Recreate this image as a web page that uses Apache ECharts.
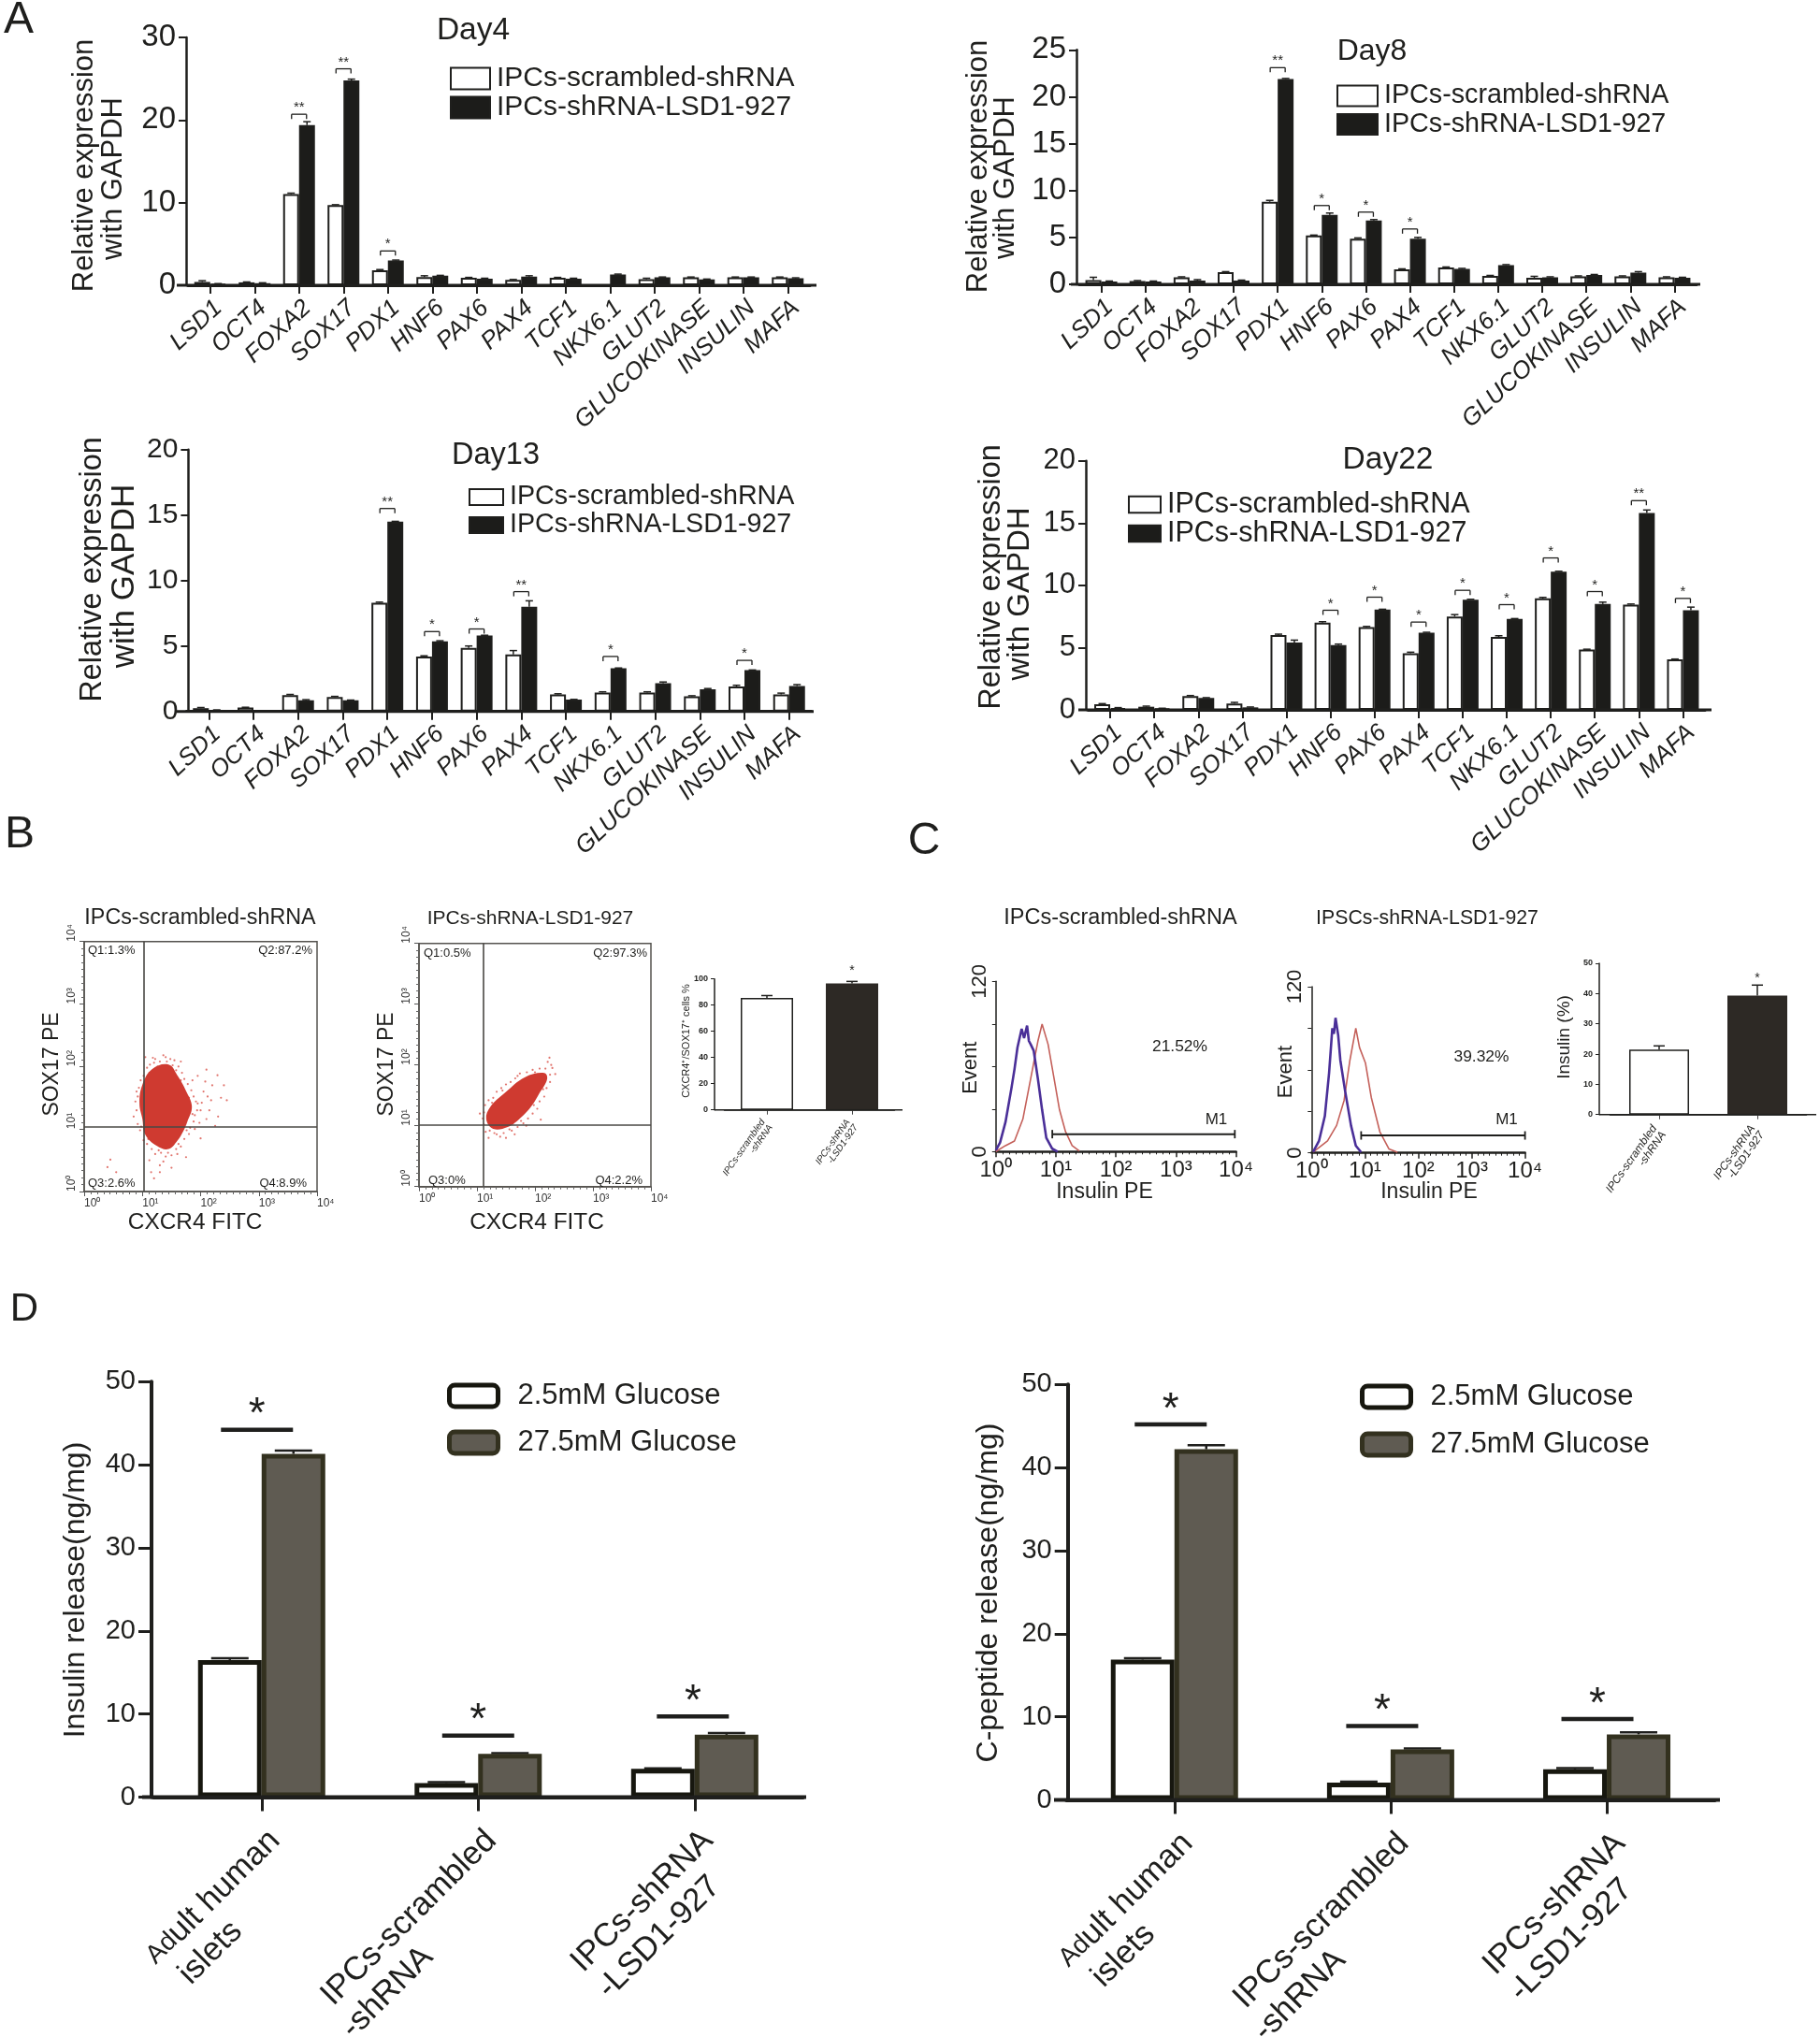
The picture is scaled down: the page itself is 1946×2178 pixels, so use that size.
<!DOCTYPE html>
<html><head><meta charset="utf-8">
<style>html,body{margin:0;padding:0;background:#fff}#c{width:1946px;height:2178px}</style>
<script src="https://cdn.jsdelivr.net/npm/echarts@6/dist/echarts.min.js"></script></head>
<body><div id="c"></div>
<script>
const FF = '"Liberation Sans"';
const INK = '#1f1f1d';
const genes = ['LSD1','OCT4','FOXA2','SOX17','PDX1','HNF6','PAX6','PAX4','TCF1','NKX6.1','GLUT2','GLUCOKINASE','INSULIN','MAFA'];
const seriesS = 'IPCs-scrambled-shRNA', seriesK = 'IPCs-shRNA-LSD1-927';

const day4S = [0.4,0.35,11.05,9.7,1.8,1.0,0.9,0.65,0.9,0,0.75,0.95,0.95,0.95];
const day4K = [0.15,0.25,19.4,24.8,3.0,1.15,0.8,1.05,0.8,1.3,0.95,0.7,0.95,0.85];
const day4ErrS = [0.15,0.05,0.1,0.05,0.1,0.15,0.05,0.05,0.05,0,0.1,0.05,0.05,0.05];
const day4ErrK = [0.05,0.05,0.4,0.15,0.05,0.05,0.05,0.1,0.05,0.05,0.05,0.05,0.05,0.05];
const day4Sig = [[2,20.7,'**'],[3,26.2,'**'],[4,4.15,'*']];

const day8S = [0.45,0.35,0.75,1.3,8.8,5.2,4.85,1.6,1.8,0.9,0.7,0.85,0.85,0.75];
const day8K = [0.3,0.3,0.4,0.4,21.9,7.4,6.8,4.85,1.65,2.05,0.75,1.0,1.25,0.7];
const day8ErrS = [0.3,0.05,0.05,0.05,0.15,0.05,0.1,0.05,0.05,0.05,0.15,0.05,0.05,0.05];
const day8ErrK = [0.05,0.05,0.1,0.05,0.05,0.2,0.1,0.15,0.05,0.05,0.05,0.05,0.1,0.05];
const day8Sig = [[4,23.1,'**'],[5,8.4,'*'],[6,7.7,'*'],[7,5.9,'*']];

const day13S = [0.25,0.3,1.25,1.1,8.3,4.2,4.85,4.35,1.3,1.45,1.45,1.15,1.9,1.3];
const day13K = [0.1,0.05,0.85,0.85,14.5,5.35,5.8,8.0,0.9,3.3,2.15,1.7,3.15,1.95];
const day13ErrS = [0.05,0.02,0.05,0.05,0.05,0.05,0.15,0.3,0.05,0.05,0.05,0.05,0.1,0.1];
const day13ErrK = [0.02,0.02,0.05,0.02,0.02,0.05,0.02,0.45,0.02,0.02,0.1,0.05,0.02,0.1];
const day13Sig = [[4,15.5,'**'],[5,6.1,'*'],[6,6.3,'*'],[7,9.15,'**'],[9,4.2,'*'],[12,3.9,'*']];

const day22S = [0.45,0.25,1.1,0.5,6.0,7.0,6.65,4.55,7.5,5.85,8.95,4.85,8.45,4.05];
const day22K = [0.15,0.1,0.95,0.2,5.4,5.2,8.05,6.2,8.85,7.3,11.1,8.5,15.8,8.0];
const day22ErrS = [0.05,0.05,0.05,0.1,0.08,0.08,0.05,0.08,0.15,0.1,0.08,0.02,0.05,0.03];
const day22ErrK = [0.03,0.03,0.03,0.03,0.2,0.08,0.03,0.03,0.03,0.03,0.03,0.15,0.25,0.25];
const day22Sig = [[5,8.0,'*'],[6,9.05,'*'],[7,7.05,'*'],[8,9.6,'*'],[9,8.45,'*'],[10,12.2,'*'],[11,9.5,'*'],[12,16.8,'**'],[13,8.95,'*']];

// Flow plots: coordinates are log10 decades
const decadeTicks = ['10\u2070','10\u00b9','10\u00b2','10\u00b3','10\u2074'];
const dot1Core = [[1,1.71],[1.17,1.96],[1.45,2.03],[1.6,1.86],[1.75,1.61],[1.85,1.36],[1.77,1.11],[1.7,0.96],[1.6,0.81],[1.45,0.68],[1.25,0.73],[1.05,0.91],[1,1.16],[0.95,1.41]];
const dot1Dots = [[2.29,1.86],[2.05,1.6],[2,1.3],[2.35,1.5],[2.45,1.46],[2.15,1.3],[2.1,1.16],[1.95,1.41],[2.2,1.7],[2.3,1.2],[0.45,0.51],[0.4,0.39],[0.55,0.31],[1.15,0.31],[1.3,0.31],[1.2,0.21],[1.05,2.15],[1.4,2.15],[1.55,2.1],[1.2,2.06],[1.9,1.0],[2.0,0.85],[1.75,0.55],[1.3,0.42],[1.5,0.38],[2.25,1.05],[1.95,1.85],[2.1,1.95],[0.9,1.6],[0.85,1.2],[2.12,1.52],[2.4,1.7],
 [1.02,1.85],[1.08,1.98],[1.13,2.03],[1.22,2.12],[1.3,2.08],[1.36,2.18],[1.48,2.12],[1.52,2.02],[1.62,2.0],[1.68,1.9],[1.72,1.8],[1.78,1.72],[1.84,1.62],[1.88,1.52],[1.92,1.44],[1.94,1.3],[1.9,1.22],[1.88,1.12],[1.82,1.02],[1.8,0.92],[1.72,0.84],[1.66,0.72],[1.58,0.68],[1.5,0.58],[1.4,0.56],[1.32,0.62],[1.22,0.6],[1.16,0.68],[1.08,0.76],[1.02,0.82],[0.96,0.98],[0.92,1.08],[0.9,1.3],[0.88,1.44],[0.92,1.52],[0.94,1.66],[0.97,1.78],[1.12,1.9],[1.26,2.0],[1.42,2.08],[1.58,1.94],[1.66,1.78],[1.8,1.5],[1.86,1.24],[1.76,0.98],[1.62,0.76],[1.44,0.62],[1.28,0.66],[1.1,0.84],[0.98,1.04],[1.18,2.14],[1.66,2.08],[1.86,1.78],[2.02,1.42],[1.98,1.1],[1.6,0.6],[1.36,0.48],[1.12,0.5],[2.18,1.46],[2.08,1.76]];
const dot2Core = [[1.16,1.11],[1.23,1.31],[1.48,1.54],[1.83,1.8],[2.16,1.87],[2.21,1.77],[2.08,1.54],[1.93,1.31],[1.73,1.11],[1.53,0.98],[1.28,0.95]];
const dot2Dots = [[2.28,2.0],[2.25,2.12],[2.3,1.95],[2.22,2.05],[2.35,1.85],[1.3,0.88],[1.4,0.82],[1.5,0.8],[1.15,0.9],[1.65,0.86],[1.05,1.2],[2.1,1.1],[1.2,0.8],[1.85,1.0],
 [1.12,1.22],[1.14,1.34],[1.2,1.42],[1.28,1.46],[1.34,1.56],[1.42,1.62],[1.5,1.68],[1.58,1.72],[1.66,1.78],[1.74,1.86],[1.86,1.88],[1.96,1.92],[2.08,1.94],[2.18,1.94],[2.26,1.84],[2.26,1.72],[2.2,1.62],[2.16,1.48],[2.08,1.4],[2.04,1.28],[1.96,1.2],[1.88,1.12],[1.8,1.04],[1.7,0.98],[1.6,0.92],[1.46,0.88],[1.34,0.86],[1.22,0.92],[1.12,1.02],[1.1,1.12],[1.26,1.38],[1.44,1.58],[1.7,1.82],[2.0,1.88],[2.14,1.6],[1.98,1.34],[1.76,1.08],[1.56,0.94]];
const dot1Gate = [1.03,1.04], dot2Gate = [1.11,1.02];
const dot1Quad = ['Q1:1.3%','Q2:87.2%','Q3:2.6%','Q4:8.9%'];
const dot2Quad = ['Q1:0.5%','Q2:97.3%','Q3:0%','Q4:2.2%'];

const hist1Blue = [[0,0.9],[0.07,6.4],[0.16,20.7],[0.26,44.8],[0.31,58],[0.36,73.4],[0.43,86.6],[0.47,80],[0.52,88.8],[0.55,78],[0.58,75.6],[0.63,71.2],[0.7,51.4],[0.77,29.5],[0.84,9.7],[0.94,2],[1.03,0]];
const hist1Red = [[0,0],[0.16,4.2],[0.31,7.5],[0.45,22.9],[0.6,55.8],[0.7,77.8],[0.77,89.9],[0.87,75.6],[0.97,51.4],[1.06,29.5],[1.16,14.1],[1.27,4.2],[1.39,0.4]];
const hist2Blue = [[0.03,0.7],[0.14,8.6],[0.25,26.6],[0.33,58],[0.39,90],[0.42,86],[0.45,97.5],[0.5,85],[0.54,67],[0.63,44.6],[0.74,19.8],[0.83,5.2],[0.93,0.5]];
const hist2Red = [[0.03,0.5],[0.3,8.6],[0.47,19.8],[0.61,37.8],[0.72,67],[0.83,90],[0.9,76],[1.01,65],[1.12,40],[1.28,15.3],[1.45,2.9],[1.61,0.5]];
const hist1M1 = [[0.94,12.3],[3.98,12.3]], hist2M1 = [[0.93,12.6],[4,12.6]];

const flowCats = ['IPCs-scrambled\n-shRNA','IPCs-shRNA\n-LSD1-927'];
const bPct = [85.5,96.5], bPctErr = [1.8,1.6];
const cPct = [21.5,39.3], cPctErr = [1.2,3.5];

const dCats = ['Adult human\nislets','IPCs-scrambled\n-shRNA','IPCs-shRNA\n-LSD1-927'];
const dCatLabels = ['{s|Ad}ult human\nislets          ','IPCs-scrambled\n-shRNA              ','IPCs-shRNA\n-LSD1-927   '];
const lowName = '2.5mM Glucose', highName = '27.5mM Glucose';
const insLow = [16.5,1.7,3.4], insHigh = [41.3,5.2,7.5];
const insLowErr = [0.2,0.1,0.05], insHighErr = [0.4,0.1,0.2];
const insSig = [[0,44.2,'*'],[1,7.4,'*'],[2,9.7,'*']];
const insSigShift = [-5,0,-2];
const cpLow = [16.9,2.1,3.7], cpHigh = [42.2,6.1,7.9];
const cpLowErr = [0.15,0.1,0.15], cpHighErr = [0.5,0.1,0.25];
const cpSig = [[0,45.2,'*'],[1,8.9,'*'],[2,9.75,'*']];
const cpSigShift = [-4,-9,-10];

const grid=[], xAxis=[], yAxis=[], series=[], legend=[], graphic=[];

function T(text,x,y,size,o){o=o||{};
  graphic.push({type:'text',x,y,rotation:o.rot||0,z:50,style:{text,fill:o.color||INK,
    font:(o.style||'normal')+' '+(o.weight||'normal')+' '+size+'px '+FF,
    textAlign:o.align||'center',textVerticalAlign:'middle',align:o.align||'center',verticalAlign:'middle'}});
}
function hline(x1,x2,y,w,c){graphic.push({type:'line',z:40,shape:{x1,y1:y,x2,y2:y},style:{stroke:c||INK,lineWidth:w}});}

function addGrid(l,r,t,b){grid.push({left:l,top:t,width:r-l,height:b-t,containLabel:false,outerBoundsMode:'none'});return grid.length-1;}

function errSeries(g,vals,errs,dx,cap,lw){
  series.push({type:'custom',xAxisIndex:g,yAxisIndex:g,z:1,silent:true,data:vals.map((v,i)=>[i,v,errs[i]]),
    renderItem:(p,api)=>{const e=api.value(2);if(!e)return null;
      const a=api.coord([api.value(0),api.value(1)]),b=api.coord([api.value(0),api.value(1)+e]),x=a[0]+dx;
      return {type:'group',children:[
        {type:'line',shape:{x1:x,y1:a[1],x2:x,y2:b[1]},style:{stroke:INK,lineWidth:lw}},
        {type:'line',shape:{x1:x-cap,y1:b[1],x2:x+cap,y2:b[1]},style:{stroke:INK,lineWidth:lw}}]};}});
}
function sigSeries(g,sig,o){
  series.push({type:'custom',xAxisIndex:g,yAxisIndex:g,z:5,silent:true,data:sig.map(s=>[s[0],s[1]]),
    renderItem:(p,api)=>{const c=api.coord([api.value(0),api.value(1)]),x=c[0]+(o.shift?o.shift[p.dataIndex]:0),y=c[1],st={stroke:INK,lineWidth:o.lw};
      const kids=[];
      if(o.lw>0)kids.push({type:'line',shape:{x1:x-o.w,y1:y,x2:x+o.w,y2:y},style:st});
      if(o.leg){kids.push({type:'line',shape:{x1:x-o.w,y1:y,x2:x-o.w,y2:y+o.leg},style:st},{type:'line',shape:{x1:x+o.w,y1:y,x2:x+o.w,y2:y+o.leg},style:st});}
      kids.push({type:'text',style:{text:sig[p.dataIndex][2],x,y:y-o.up,fill:INK,font:'normal '+o.size+'px '+FF,textAlign:'center',textVerticalAlign:'middle',align:'center',verticalAlign:'middle'}});
      return {type:'group',children:kids};}});
}

function geneChart(c){
  const g=addGrid(c.left,c.right,c.top,c.bottom);
  xAxis.push({type:'category',gridIndex:g,data:genes,
    axisLine:{show:true,lineStyle:{color:INK,width:3}},
    axisTick:{show:true,alignWithLabel:true,length:9,lineStyle:{color:INK,width:2}},
    axisLabel:{interval:0,rotate:43,verticalAlign:'top',fontSize:c.catSize,fontStyle:'italic',fontFamily:FF,color:INK,margin:11}});
  yAxis.push({type:'value',gridIndex:g,min:0,max:c.max,interval:c.step,offset:c.off,
    axisLine:{show:true,onZero:false,lineStyle:{color:INK,width:2.5}},
    axisTick:{show:true,length:8,lineStyle:{color:INK,width:2}},splitLine:{show:false},
    axisLabel:{fontSize:c.tickSize,fontFamily:FF,color:INK,margin:11}});
  const bw=17;
  const bar=(name,data,fill)=>({type:'bar',name,xAxisIndex:g,yAxisIndex:g,data,barWidth:bw,barGap:'0%',z:3,
    itemStyle:{color:fill,borderColor:INK,borderWidth:2}});
  series.push(bar(seriesS,c.s,'#ffffff'),bar(seriesK,c.k,'#1c1c1a'));
  errSeries(g,c.s,c.es,-bw/2,4,1.5);
  errSeries(g,c.k,c.ek,bw/2,4,1.5);
  sigSeries(g,c.sig,{w:8,leg:5,lw:1.3,up:7,size:15});
  hline(c.extL,c.extR,c.bottom,3);
  legend.push({show:true,left:c.lg[0],top:c.lg[1],orient:'vertical',padding:0,itemWidth:c.lg[2],itemHeight:c.lg[3],itemGap:c.lg[4],
    selectedMode:false,data:[seriesS,seriesK],icon:'rect',textStyle:{fontSize:c.lg[5],fontFamily:FF,color:INK,padding:[0,0,0,2]}});
  T(c.title,c.titleX,c.titleY,c.titleSize);
  T('Relative expression',c.n1[0],c.n1[1],c.nameSize,{rot:Math.PI/2});
  T('with GAPDH',c.n2[0],c.n2[1],c.name2Size,{rot:Math.PI/2});
}

geneChart({left:201,right:866,top:40,bottom:305,off:2,extL:189,extR:873,max:30,step:10,s:day4S,k:day4K,es:day4ErrS,ek:day4ErrK,sig:day4Sig,
  catSize:26,tickSize:33,nameSize:31,name2Size:31,lg:[481,69,42,23,1,30],title:'Day4',titleSize:33.5,titleX:506,titleY:33,n1:[90,177],n2:[121,191]});
geneChart({left:1154,right:1814,top:53.3,bottom:304,off:3,extL:1145,extR:1818,max:25,step:5,s:day8S,k:day8K,es:day8ErrS,ek:day8ErrK,sig:day8Sig,
  catSize:26,tickSize:33,nameSize:31,name2Size:31,lg:[1429,88,43,22,1.5,28.7],title:'Day8',titleSize:32,titleX:1467,titleY:55,n1:[1046,178],n2:[1075,190]});
geneChart({left:199.4,right:867.6,top:480.7,bottom:760.7,off:-2,extL:189,extR:870,max:20,step:5,s:day13S,k:day13K,es:day13ErrS,ek:day13ErrK,sig:day13Sig,
  catSize:26,tickSize:30,nameSize:32.5,name2Size:35,lg:[501,517,36,17,1,28.7],title:'Day13',titleSize:32.5,titleX:530,titleY:487,n1:[99,609],n2:[133,616]});
geneChart({left:1163.5,right:1823,top:492.7,bottom:759,off:2.5,extL:1153,extR:1830,max:20,step:5,s:day22S,k:day22K,es:day22ErrS,ek:day22ErrK,sig:day22Sig,
  catSize:26,tickSize:31,nameSize:32.5,name2Size:33,lg:[1206,524,34,17.5,0,30.5],title:'Day22',titleSize:33.5,titleX:1484,titleY:492,n1:[1060,617],n2:[1091,635]});

function polySeries(g,pts,fill,z){
  series.push({type:'custom',xAxisIndex:g,yAxisIndex:g,z,silent:true,data:pts,
    renderItem:(p,api)=>{if(p.dataIndex!==0)return null;
      return {type:'polygon',shape:{points:pts.map(q=>api.coord(q)),smooth:0.4},style:{fill}};}});
}
function dotPlot(c){
  const g=addGrid(c.l,c.r,c.t,c.b);
  grid[g].show=true;grid[g].borderColor='#55534f';grid[g].borderWidth=1.5;grid[g].backgroundColor='transparent';
  const ax=(lab)=>({type:'value',gridIndex:g,min:0,max:4,interval:1,minorTick:{show:true,splitNumber:9,length:3,lineStyle:{color:'#666',width:1}},
    axisLine:{show:true,onZero:false,lineStyle:{color:'#55534f',width:1.5}},axisTick:{show:true,length:5,lineStyle:{color:'#555',width:1}},splitLine:{show:false},
    axisLabel:Object.assign({fontSize:12,fontFamily:FF,color:'#333',margin:7,formatter:v=>decadeTicks[v],hideOverlap:false},lab)});
  xAxis.push(ax({align:'left'}));yAxis.push(ax({rotate:90,align:'left',verticalAlign:'bottom'}));
  polySeries(g,c.core,'#cf3a30',3);
  series.push({type:'scatter',xAxisIndex:g,yAxisIndex:g,z:2,silent:true,data:c.dots,symbolSize:2.2,itemStyle:{color:'#d9534a'},
    markLine:{silent:true,symbol:'none',z:6,label:{show:false},lineStyle:{color:'#4a4844',width:1.6,type:'solid'},animation:false,
      data:[{xAxis:c.gate[0]},{yAxis:c.gate[1]}]}});
  T(c.title,c.titleX,982,c.titleSize);
  T('CXCR4 FITC',c.xn,1307.7,24.4);
  T('SOX17 PE',c.yn,1138,23,{rot:Math.PI/2});
  T(c.q[0],c.q0[0],c.q0[1],13,{align:'left'});
  T(c.q[1],c.q1[0],c.q1[1],13,{align:'right'});
  T(c.q[2],c.q2[0],c.q2[1],13,{align:'left'});
  T(c.q[3],c.q3[0],c.q3[1],13,{align:'right'});
}
dotPlot({l:90,r:339,t:1006.7,b:1274,core:dot1Core,dots:dot1Dots,gate:dot1Gate,q:dot1Quad,title:seriesS,titleSize:23.3,titleX:214,xn:208.6,yn:56,
  q0:[94,1016],q1:[334,1016],q2:[94,1265],q3:[328,1265]});
dotPlot({l:448,r:696,t:1008.7,b:1268.7,core:dot2Core,dots:dot2Dots,gate:dot2Gate,q:dot2Quad,title:seriesK,titleSize:21,titleX:567,xn:574,yn:414,
  q0:[453,1019],q1:[692,1019],q2:[458,1262],q3:[687,1262]});

function pctBar(c){
  const g=addGrid(c.l,c.r,c.t,c.b);
  xAxis.push({type:'category',gridIndex:g,data:flowCats,axisLine:{show:true,lineStyle:{color:INK,width:1.5}},
    axisTick:{show:true,alignWithLabel:true,length:5,lineStyle:{color:'#444',width:1}},
    axisLabel:{interval:0,rotate:55,fontSize:c.cs,fontStyle:'italic',fontFamily:FF,color:INK,margin:c.cm}});
  yAxis.push({type:'value',gridIndex:g,min:0,max:c.max,interval:c.step,offset:c.off,axisLine:{show:true,onZero:false,lineStyle:{color:INK,width:1.5}},
    axisTick:{show:true,length:4,lineStyle:{color:INK,width:1}},splitLine:{show:false},
    axisLabel:{fontSize:9,fontWeight:'bold',fontFamily:FF,color:INK,margin:7}});
  series.push({type:'bar',xAxisIndex:g,yAxisIndex:g,barWidth:c.bw,z:3,
    data:[{value:c.v[0],itemStyle:{color:'#fff',borderColor:INK,borderWidth:1.5}},{value:c.v[1],itemStyle:{color:'#2d2925',borderColor:'#2d2925',borderWidth:1.5}}]});
  series.push({type:'custom',xAxisIndex:g,yAxisIndex:g,z:2,silent:true,data:c.v.map((v,i)=>[i,v,c.e[i]]),
    renderItem:(p,api)=>{const a=api.coord([api.value(0),api.value(1)]),b=api.coord([api.value(0),api.value(1)+api.value(2)]);
      return {type:'group',children:[
        {type:'line',shape:{x1:a[0],y1:a[1],x2:a[0],y2:b[1]},style:{stroke:INK,lineWidth:1.5}},
        {type:'line',shape:{x1:a[0]-6,y1:b[1],x2:a[0]+6,y2:b[1]},style:{stroke:INK,lineWidth:1.5}}]};}});
  sigSeries(g,[[1,c.star,'*']],{w:0,lw:0,up:0,size:14});
  hline(c.extL,c.extR,c.b,1.5);
}
pctBar({l:774.5,r:956.5,t:1046.7,b:1186.7,off:10.5,extL:764,extR:965,max:100,step:20,v:bPct,e:bPctErr,bw:56,star:106,cs:10,cm:14});
T('CXCR4\u207a/SOX17\u207a cells %',734,1113,11,{rot:Math.PI/2});
pctBar({l:1721.5,r:1931.5,t:1030,b:1191.7,off:11.5,extL:1710,extR:1942,max:50,step:10,v:cPct,e:cPctErr,bw:64,star:45,cs:12,cm:16});
T('Insulin (%)',1673,1109,19,{rot:Math.PI/2});

function hist(c){
  const g=addGrid(c.l,c.r,c.t,c.b);
  xAxis.push({type:'value',gridIndex:g,min:0,max:4,interval:1,minorTick:{show:true,splitNumber:9,length:3,lineStyle:{color:INK,width:1}},
    axisLine:{show:true,onZero:false,lineStyle:{color:INK,width:2.5}},axisTick:{show:true,length:6,lineStyle:{color:INK,width:1.5}},splitLine:{show:false},
    axisLabel:{fontSize:24,fontFamily:FF,color:INK,margin:8,formatter:v=>decadeTicks[v]}});
  yAxis.push({type:'value',gridIndex:g,min:0,max:120,interval:30,axisLine:{show:true,onZero:false,lineStyle:{color:INK,width:1.5}},
    axisTick:{show:true,length:4,lineStyle:{color:INK,width:1}},splitLine:{show:false},
    axisLabel:{rotate:90,fontSize:22,fontFamily:FF,color:INK,margin:6,formatter:v=>(v===0||v===120)?String(v):''}});
  const ln=(data,color,w)=>({type:'line',xAxisIndex:g,yAxisIndex:g,data,showSymbol:false,silent:true,z:3,lineStyle:{color,width:w},itemStyle:{color}});
  series.push(ln(c.red,'#c4605a',1.6),ln(c.blue,'#4a2f98',2.6));
  series.push({type:'line',xAxisIndex:g,yAxisIndex:g,data:c.m1,silent:true,z:3,symbol:'rect',symbolSize:[1.8,9],lineStyle:{color:INK,width:2},itemStyle:{color:INK}});
  T(c.title,c.titleX,982,c.titleSize);
  T('Event',c.ev[0],c.ev[1],22,{rot:Math.PI/2});
  T('Insulin PE',c.xn,1275,23);
  T(c.pct,c.pp[0],c.pp[1],17.4);
  T('M1',c.mp[0],c.mp[1],17);
}
hist({l:1064.8,r:1321.6,t:1049.3,b:1231.3,red:hist1Red,blue:hist1Blue,m1:hist1M1,title:seriesS,titleSize:23.5,titleX:1198,ev:[1038,1141.7],xn:1181,pct:'21.52%',pp:[1261.5,1119],mp:[1300.5,1197]});
hist({l:1402.3,r:1630.6,t:1055,b:1232.7,red:hist2Red,blue:hist2Blue,m1:hist2M1,title:'IPSCs-shRNA-LSD1-927',titleSize:21.3,titleX:1526,ev:[1375,1146],xn:1528,pct:'39.32%',pp:[1584,1130.7],mp:[1611,1197]});

function glucose(c){
  const g=addGrid(c.l,c.r,c.t,c.b);
  xAxis.push({type:'category',gridIndex:g,data:dCats,axisLine:{show:true,lineStyle:{color:INK,width:4}},
    axisTick:{show:true,alignWithLabel:true,length:15,lineStyle:{color:INK,width:3}},
    axisLabel:{interval:0,rotate:45,verticalAlign:'top',fontSize:35,fontFamily:FF,color:INK,margin:27,lineHeight:40,
      formatter:(v,i)=>dCatLabels[i],rich:{s:{fontSize:28,fontFamily:FF,color:INK,lineHeight:40}}}});
  yAxis.push({type:'value',gridIndex:g,min:0,max:50,interval:10,offset:c.off,axisLine:{show:true,onZero:false,lineStyle:{color:INK,width:4}},
    axisTick:{show:true,length:14,lineStyle:{color:INK,width:3}},splitLine:{show:false},
    axisLabel:{fontSize:29,fontFamily:FF,color:INK,margin:17}});
  const bar=(name,data,fill,bc)=>({type:'bar',name,xAxisIndex:g,yAxisIndex:g,data,barWidth:68,barGap:'0%',z:3,itemStyle:{color:fill,borderColor:bc,borderWidth:5}});
  series.push(bar(lowName,c.lo,'#ffffff','#17170f'),bar(highName,c.hi,'#5f5b52','#33311f'));
  errSeries(g,c.lo,c.le,-34,20,2.5);
  errSeries(g,c.hi,c.he,34,20,2.5);
  sigSeries(g,c.sig,{w:38.5,lw:4.5,up:15,size:46,shift:c.shift});
  hline(c.extL,c.extR,c.b,4);
  legend.push({show:true,left:c.lg[0],top:c.lg[1],orient:'vertical',padding:0,itemWidth:52,itemHeight:23,itemGap:c.lgap,selectedMode:false,icon:'roundRect',
    data:[{name:lowName,itemStyle:{color:'#ffffff',borderColor:'#17170f',borderWidth:5}},{name:highName,itemStyle:{color:'#5f5b52',borderColor:'#33311f',borderWidth:5}}],
    textStyle:{fontSize:31,fontFamily:FF,color:INK,padding:[0,0,0,16]}});
  T(c.name,c.nx,c.ny,32,{rot:Math.PI/2});
}
glucose({l:164,r:858.6,t:1477.2,b:1921.5,off:2,extL:152,extR:862,lo:insLow,hi:insHigh,le:insLowErr,he:insHighErr,sig:insSig,shift:insSigShift,lg:[478,1477],lgap:19,name:'Insulin release(ng/mg)',nx:81,ny:1700});
glucose({l:1140.2,r:1833.6,t:1480.3,b:1924.6,off:-1.5,extL:1127,extR:1839,lo:cpLow,hi:cpHigh,le:cpLowErr,he:cpHighErr,sig:cpSig,shift:cpSigShift,lg:[1454,1478],lgap:20,name:'C-peptide release(ng/mg)',nx:1057,ny:1703});

T('A',20,22,48);
T('B',21,893,48);
T('C',988,900,48);
T('D',26,1400,42);

const chart=echarts.init(document.getElementById('c'),null,{renderer:'canvas'});
chart.setOption({animation:false,backgroundColor:'#ffffff',textStyle:{fontFamily:FF},tooltip:{show:false},grid,xAxis,yAxis,series,legend,graphic});
</script></body></html>
